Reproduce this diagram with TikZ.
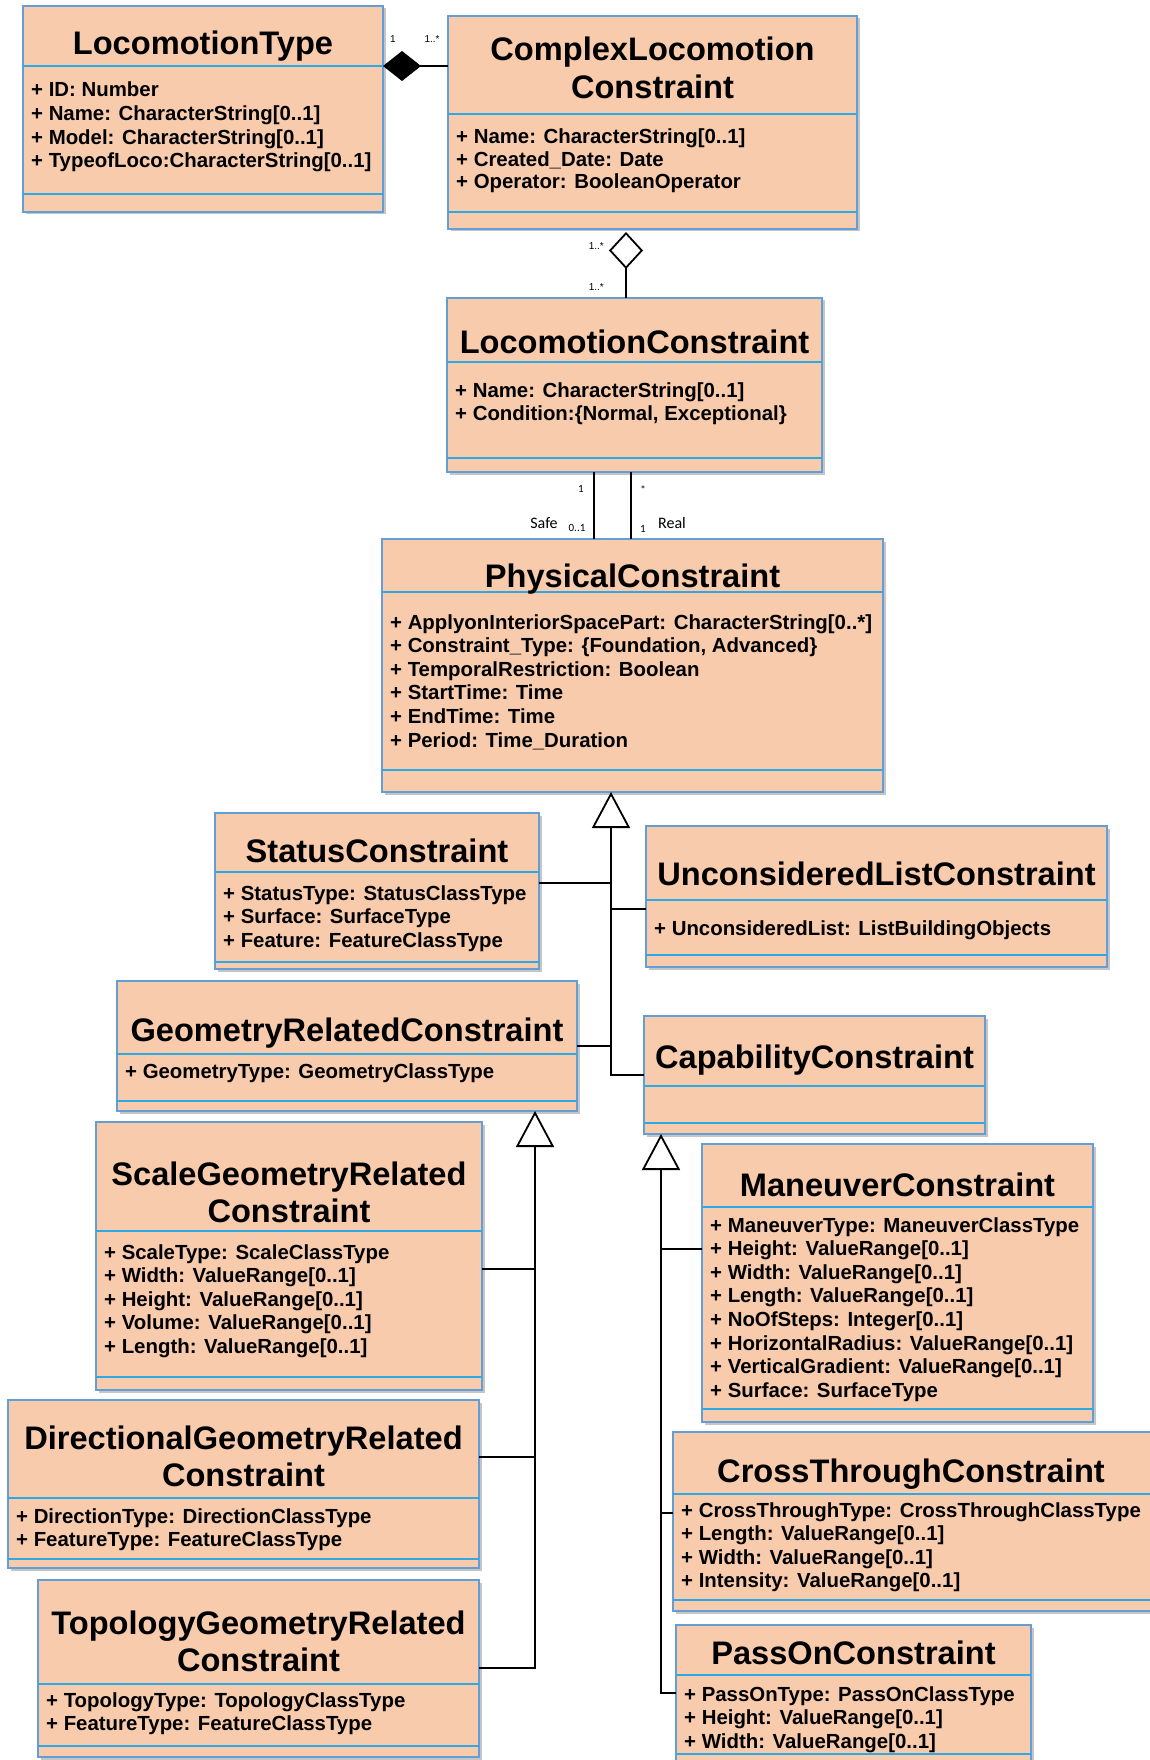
\documentclass[tikz,border=0pt]{standalone}
\usepackage{fontspec}
\setmainfont{Liberation Sans}
\newfontfamily\smallfont{Carlito}
\usetikzlibrary{arrows.meta,calc,fit,shadows}

\definecolor{classfill}{RGB}{248,203,173}
\definecolor{classedge}{RGB}{100,158,215}
\definecolor{classsep}{RGB}{45,170,230}

\newcommand\titlefont{\fontsize{32.6}{37.5}\selectfont\bfseries}
\newcommand\attrfont{\fontsize{20.4}{23.6}\selectfont\bfseries}
\newcommand\multfont{\fontsize{10}{12}\selectfont}
\newcommand\rolefont{\smallfont\fontsize{16}{19}\selectfont}
\newcommand\rolesmall{\smallfont\fontsize{11}{13}\selectfont}

\newcommand\clines[1]{\begin{tabular}[t]{@{}c@{}}#1\end{tabular}}
\newcommand\llines[1]{\begin{tabular}[t]{@{}l@{}}#1\end{tabular}}

% class box: name, x1, y1, x2, y2, title separator, attribute separator
\newcommand\umlclass[7]{%
  \node[classbox, fit={(#2,#3) (#4,#5)}] (#1) {};
  \draw[sepline] (#2,#6) -- (#4,#6);
  \draw[sepline] (#2,#7) -- (#4,#7);}

\begin{document}
\begin{tikzpicture}[x=1pt, y=-1pt,
  classbox/.style={draw=classedge, fill=classfill, line width=1.4pt,
    inner sep=0pt, outer sep=0pt,
    drop shadow={shadow xshift=2.5pt, shadow yshift=-2.5pt, fill=black!50, opacity=.45}},
  sepline/.style={draw=classsep, line width=1.4pt},
  ctitle/.style={anchor=base, inner sep=0pt, font=\titlefont},
  attrs/.style={anchor=base west, inner sep=0pt, font=\attrfont},
  mult/.style={inner sep=0pt, font=\multfont},
  role/.style={inner sep=0pt, font=\rolefont},
  rolesm/.style={inner sep=0pt, font=\rolesmall},
  conn/.style={draw=black, line width=1.8pt},
  gen/.style={conn, -{Triangle[open, fill=white, length=36pt, width=38pt]}},
  comp/.style={conn, -{Diamond[length=38pt, width=30pt]}},
  aggr/.style={conn, -{Diamond[open, fill=white, length=37pt, width=34pt]}}]

\fill[white] (0,0) rectangle (1149,1760);
\useasboundingbox (0,0) rectangle (1149,1760);

% ---- class boxes ----
\umlclass{loctype}{23}{6}{383}{212}{66}{194}
\umlclass{complex}{448}{16}{857}{229}{114}{212}
\umlclass{locc}{447}{298}{822}{472}{362}{458}
\umlclass{phys}{382}{539}{883}{792}{592}{770}
\umlclass{status}{215}{813}{539}{969}{872}{962}
\umlclass{uncons}{646}{826}{1107}{967}{900}{955}
\umlclass{geom}{117}{981}{577}{1111}{1054}{1101}
\umlclass{capab}{644}{1016}{985}{1134}{1086}{1123}
\umlclass{scale}{96}{1122}{482}{1390}{1231}{1377}
\umlclass{direc}{8}{1400}{479}{1568}{1498}{1559}
\umlclass{topo}{38}{1580}{479}{1757}{1684}{1746}
\umlclass{maneu}{702}{1144}{1093}{1422}{1207}{1409}
\umlclass{cross}{673}{1432}{1162}{1611}{1494}{1600}
\umlclass{passon}{676}{1625}{1031}{1778}{1675}{1754}

% ---- class names ----
\node[ctitle] (loctype-t) at (203,54.5) {LocomotionType};
\node[ctitle] (complex-t) at (652.5,61) {\clines{ComplexLocomotion\\Constraint}};
\node[ctitle] (locc-t) at (634.5,353) {LocomotionConstraint};
\node[ctitle] (phys-t) at (632.5,587) {PhysicalConstraint};
\node[ctitle] (status-t) at (377,862) {StatusConstraint};
\node[ctitle] (uncons-t) at (876.5,885) {UnconsideredListConstraint};
\node[ctitle] (geom-t) at (347,1041) {GeometryRelatedConstraint};
\node[ctitle] (capab-t) at (814.5,1068) {CapabilityConstraint};
\node[ctitle] (scale-t) at (289,1185) {\clines{ScaleGeometryRelated\\Constraint}};
\node[ctitle] (direc-t) at (243.5,1449) {\clines{DirectionalGeometryRelated\\Constraint}};
\node[ctitle] (topo-t) at (258.5,1634) {\clines{TopologyGeometryRelated\\Constraint}};
\node[ctitle] (maneu-t) at (897.5,1196) {ManeuverConstraint};
\node[ctitle] (cross-t) at (911,1482) {CrossThroughConstraint};
\node[ctitle] (passon-t) at (853.5,1664) {PassOnConstraint};

% ---- attributes ----
\node[attrs] (loctype-a) at (31,97) {\llines{+ ID: Number\\+ Name: CharacterString[0..1]\\+ Model: CharacterString[0..1]\\+ TypeofLoco:CharacterString[0..1]}};
\node[attrs] (complex-a) at (456,143.7) {\llines{+ Name: CharacterString[0..1]\\[-1.1pt]+ Created\_Date: Date\\[-1.1pt]+ Operator: BooleanOperator}};
\node[attrs] (locc-a) at (455,397) {\llines{+ Name: CharacterString[0..1]\\+ Condition:\{Normal, Exceptional\}}};
\node[attrs] (phys-a) at (390,629) {\llines{+ ApplyonInteriorSpacePart: CharacterString[0..*]\\+ Constraint\_Type: \{Foundation, Advanced\}\\+ TemporalRestriction: Boolean\\+ StartTime: Time\\+ EndTime: Time\\+ Period: Time\_Duration}};
\node[attrs] (status-a) at (223,900) {\llines{+ StatusType: StatusClassType\\+ Surface: SurfaceType\\+ Feature: FeatureClassType}};
\node[attrs] (uncons-a) at (654,935) {+ UnconsideredList: ListBuildingObjects};
\node[attrs] (geom-a) at (125,1078) {+ GeometryType: GeometryClassType};
\node[attrs] (scale-a) at (104,1259) {\llines{+ ScaleType: ScaleClassType\\+ Width: ValueRange[0..1]\\+ Height: ValueRange[0..1]\\+ Volume: ValueRange[0..1]\\+ Length: ValueRange[0..1]}};
\node[attrs] (direc-a) at (16,1523) {\llines{+ DirectionType: DirectionClassType\\+ FeatureType: FeatureClassType}};
\node[attrs] (topo-a) at (46,1707) {\llines{+ TopologyType: TopologyClassType\\+ FeatureType: FeatureClassType}};
\node[attrs] (maneu-a) at (710,1232) {\llines{+ ManeuverType: ManeuverClassType\\+ Height: ValueRange[0..1]\\+ Width: ValueRange[0..1]\\+ Length: ValueRange[0..1]\\+ NoOfSteps: Integer[0..1]\\+ HorizontalRadius: ValueRange[0..1]\\+ VerticalGradient: ValueRange[0..1]\\+ Surface: SurfaceType}};
\node[attrs] (cross-a) at (681,1517) {\llines{+ CrossThroughType: CrossThroughClassType\\+ Length: ValueRange[0..1]\\+ Width: ValueRange[0..1]\\+ Intensity: ValueRange[0..1]}};
\node[attrs] (passon-a) at (684,1701) {\llines{+ PassOnType: PassOnClassType\\+ Height: ValueRange[0..1]\\+ Width: ValueRange[0..1]}};

% ---- composition and aggregation ----
\draw[comp] ($(complex.north west)+(0,50)$) -- ($(loctype.north east)+(0,60)$);
\node[mult] (comp-m1) at (393,39) {1};
\node[mult] (comp-m2) at (432,39) {1..*};

\draw[aggr] ($(locc.north west)+(179,0)$) -- ($(complex.south west)+(178,3)$);
\node[mult, anchor=east] (aggr-m1) at (604,246) {1..*};
\node[mult, anchor=east] (aggr-m2) at (604,287) {1..*};

% ---- Safe / Real associations ----
\draw[conn] ($(locc.south west)+(147,0)$) -- ($(phys.north west)+(212,0)$);
\draw[conn] ($(locc.south west)+(184,0)$) -- ($(phys.north west)+(249,0)$);
\node[rolesm] (safe-m1) at (581,489) {1};
\node[rolesm] (real-m1) at (643,490) {*};
\node[role] (safe-r) at (544,523) {Safe};
\node[rolesm] (safe-m2) at (577,528) {0..1};
\node[rolesm] (real-m2) at (643,529) {1};
\node[role] (real-r) at (672,523) {Real};

% ---- generalisation: PhysicalConstraint ----
\draw[gen] ($(capab.north west)+(0,59)$) -| ($(phys.south west)+(229,0)$);
\draw[conn] ($(status.north east)+(0,70)$) -- ($(phys.south west)+(229,91)$);
\draw[conn] ($(uncons.north west)+(0,83)$) -- ($(phys.south west)+(229,117)$);
\draw[conn] ($(geom.north east)+(0,65)$) -- ($(phys.south west)+(229,254)$);

% ---- generalisation: GeometryRelatedConstraint ----
\draw[gen] ($(topo.north east)+(0,88)$) -| ($(geom.south west)+(418,0)$);
\draw[conn] ($(scale.north east)+(0,147)$) -- ($(geom.south west)+(418,158)$);
\draw[conn] ($(direc.north east)+(0,57)$) -- ($(geom.south west)+(418,346)$);

% ---- generalisation: CapabilityConstraint ----
\draw[gen] ($(passon.north west)+(0,68)$) -| ($(capab.south west)+(17,0)$);
\draw[conn] ($(maneu.north west)+(0,105)$) -- ($(capab.south west)+(17,115)$);
\draw[conn] ($(cross.north west)+(0,81)$) -- ($(capab.south west)+(17,379)$);

\end{tikzpicture}
\end{document}
